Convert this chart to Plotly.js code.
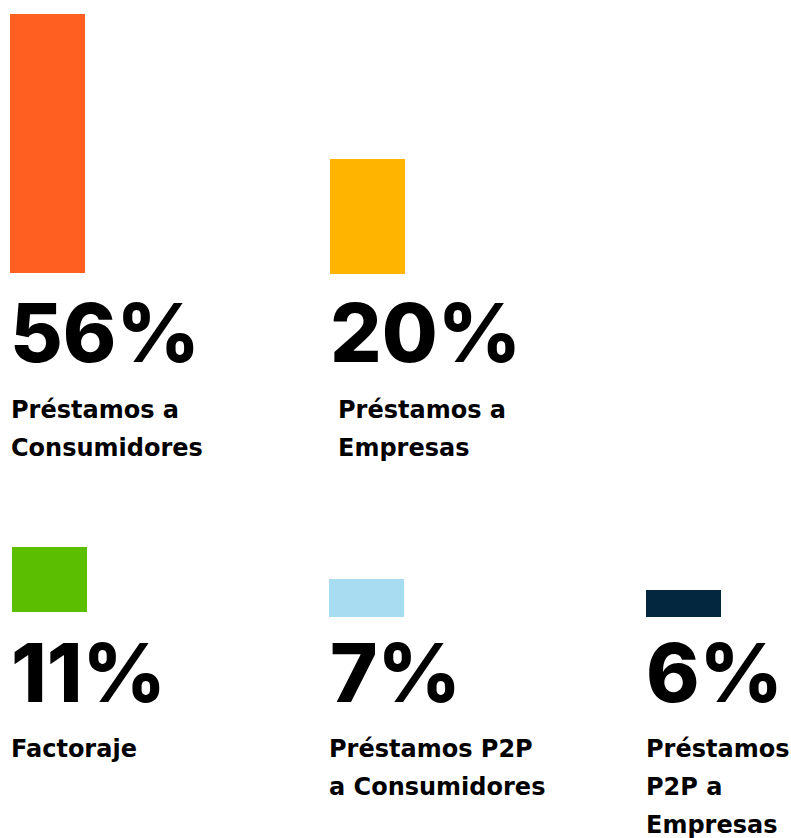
<!DOCTYPE html>
<html>
<head>
<meta charset="utf-8">
<script src="https://cdn.plot.ly/plotly-3.0.1.min.js"></script>
<style>html,body{margin:0;padding:0;background:#fff;}#chart{width:791px;height:838px;}</style>
</head>
<body>
<div id="chart"></div>
<script>
// ---- data ----
const categories = ["Préstamos a Consumidores", "Préstamos a Empresas", "Factoraje", "Préstamos P2P a Consumidores", "Préstamos P2P a Empresas"];
const values = [56, 20, 11, 7, 6];
const valueLabels = ["56%", "20%", "11%", "7%", "6%"];
const labelLines = [
  ["Préstamos a", "Consumidores"],
  ["Préstamos a", "Empresas"],
  ["Factoraje"],
  ["Préstamos P2P", "a Consumidores"],
  ["Préstamos", "P2P a", "Empresas"]
];

// ---- styles / layout (pixels) ----
const W = 791, H = 838;
const colors = ["#FF5F21", "#FFB400", "#5BBF00", "#A8DCF1", "#03273F"];
// panel boxes: left, right, bottom, top, axis max
const panels = [
  {l: 10,  r: 85,  b: 273, t: 14,  max: 56},
  {l: 330, r: 405, b: 274, t: 14,  max: 45.2},
  {l: 12,  r: 87,  b: 612, t: 547, max: 11},
  {l: 329, r: 404, b: 617, t: 547, max: 12.9},
  {l: 646, r: 721, b: 617, t: 547, max: 15.56}
];
// text positions: left x, center y of value, center y of first label line
const textPos = [
  {vx: 9,   vy: 333.5, lx: 10,  ly: 409.5},
  {vx: 329, vy: 333.5, lx: 337, ly: 409.5},
  {vx: 10,  vy: 672.5, lx: 10,  ly: 749},
  {vx: 329, vy: 672.5, lx: 328, ly: 749},
  {vx: 645, vy: 672.5, lx: 645, ly: 749}
];
const lineGap = 38;
const numFont = "Inter, 'Open Sans', sans-serif";
const labFont = "'DejaVu Sans', Inter, sans-serif";

const px = v => v / W;
const py = v => 1 - v / H;

const traces = [];
const layout = {
  width: W, height: H,
  margin: {l: 0, r: 0, t: 0, b: 0, pad: 0},
  paper_bgcolor: "#ffffff",
  plot_bgcolor: "rgba(0,0,0,0)",
  showlegend: false,
  annotations: []
};

categories.forEach((cat, i) => {
  const n = i === 0 ? "" : String(i + 1);
  const p = panels[i];
  traces.push({
    type: "bar",
    x: [cat],
    y: [values[i]],
    xaxis: "x" + n,
    yaxis: "y" + n,
    marker: {color: colors[i], line: {width: 0}},
    width: [1],
    hoverinfo: "skip"
  });
  layout["xaxis" + n] = {
    domain: [px(p.l), px(p.r)],
    anchor: "y" + n,
    visible: false,
    fixedrange: true
  };
  layout["yaxis" + n] = {
    domain: [py(p.b), py(p.t)],
    anchor: "x" + n,
    range: [0, p.max],
    visible: false,
    fixedrange: true
  };
  const tp = textPos[i];
  layout.annotations.push({
    xref: "paper", yref: "paper",
    x: px(tp.vx), y: py(tp.vy),
    xanchor: "left", yanchor: "middle",
    showarrow: false, borderpad: 0,
    text: valueLabels[i],
    font: {family: numFont, size: 81, color: "#000000", weight: 800}
  });
  labelLines[i].forEach((line, j) => {
    layout.annotations.push({
      xref: "paper", yref: "paper",
      x: px(tp.lx), y: py(tp.ly + j * lineGap),
      xanchor: "left", yanchor: "middle",
      showarrow: false, borderpad: 0,
      text: line,
      font: {family: labFont, size: 24, color: "#000000", weight: 700}
    });
  });
});

Plotly.newPlot("chart", traces, layout, {displayModeBar: false, staticPlot: true});
</script>
</body>
</html>
